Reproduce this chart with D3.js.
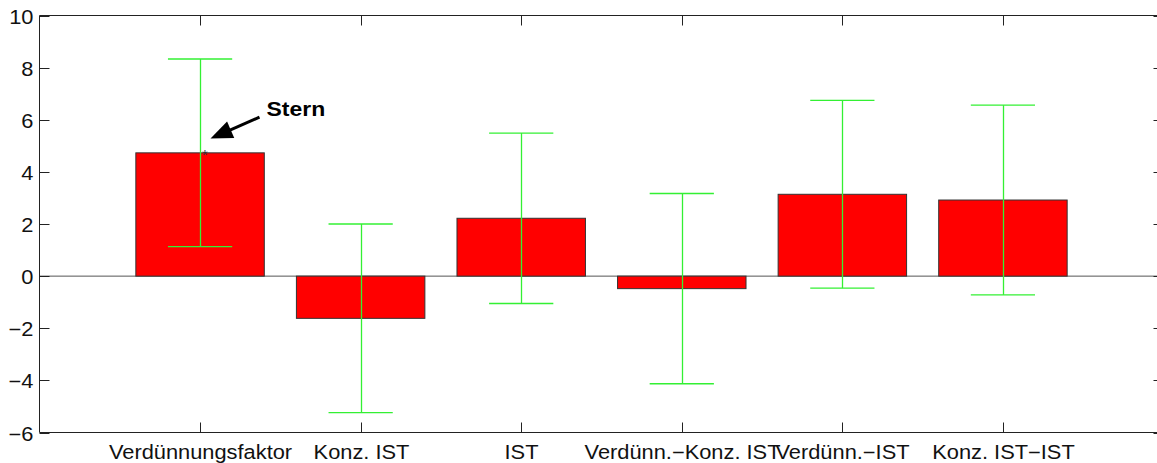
<!DOCTYPE html>
<html>
<head>
<meta charset="utf-8">
<script src="https://cdnjs.cloudflare.com/ajax/libs/d3/7.8.5/d3.min.js"></script>
<style>
  html, body { margin: 0; padding: 0; background: #fff; }
  text { font-family: "Liberation Sans", Arial, sans-serif; }
</style>
</head>
<body>
<div id="chart"></div>
<script>
// Data
var categories = ["Verdünnungsfaktor", "Konz. IST", "IST", "Verdünn.\u2212Konz. IST", "Verdünn.\u2212IST", "Konz. IST\u2212IST"];
var means = [4.73, -1.62, 2.22, -0.48, 3.14, 2.92];
var errors = [3.6, 3.62, 3.27, 3.65, 3.6, 3.64];
var yTicks = [-6, -4, -2, 0, 2, 4, 6, 8, 10];
var note = {text: "Stern", tx: 1.414, ty: 6.16, fromX: 1.37, fromY: 6.1, toX: 1.065, toY: 5.28, starX: 1.03, starY: 4.9};

var W = 1157, H = 463;
var sx = 1.12; // picture is a bit stretched horizontally

var svg = d3.select("#chart").append("svg")
  .attr("width", W).attr("height", H);

var x = d3.scaleLinear().domain([0, 7]).range([39.5, 1163.5]);
var y = d3.scaleLinear().domain([-6, 10]).range([432.5, 15.5]);

var barW = x(0.8) - x(0);

// baseline
svg.append("line")
  .attr("x1", x(0)).attr("x2", x(7))
  .attr("y1", y(0)).attr("y2", y(0))
  .style("stroke", "#555").style("stroke-width", 1);

// bars
svg.selectAll(".bar")
  .data(means)
  .enter()
  .append("rect")
  .attr("class", "bar")
  .attr("x", function(d, i) { return x(i + 1) - barW / 2; })
  .attr("width", barW)
  .attr("y", function(d) { return y(Math.max(0, d)); })
  .attr("height", function(d) { return Math.abs(y(d) - y(0)); })
  .style("fill", "#ff0000")
  .style("stroke", "#333")
  .style("stroke-width", 1);

// error bars
var capW = x(0.2) - x(0);
var eb = svg.selectAll(".err")
  .data(means)
  .enter()
  .append("g")
  .attr("class", "err")
  .style("stroke", "#33f033")
  .style("stroke-width", 1.3);
eb.append("line")
  .attr("x1", function(d, i) { return Math.round(x(i + 1)) + 0.5; })
  .attr("x2", function(d, i) { return Math.round(x(i + 1)) + 0.5; })
  .attr("y1", function(d, i) { return y(d + errors[i]); })
  .attr("y2", function(d, i) { return y(d - errors[i]); });
eb.append("line")
  .attr("x1", function(d, i) { return x(i + 1) - capW; })
  .attr("x2", function(d, i) { return x(i + 1) + capW; })
  .attr("y1", function(d, i) { return y(d + errors[i]); })
  .attr("y2", function(d, i) { return y(d + errors[i]); });
eb.append("line")
  .attr("x1", function(d, i) { return x(i + 1) - capW; })
  .attr("x2", function(d, i) { return x(i + 1) + capW; })
  .attr("y1", function(d, i) { return y(d - errors[i]); })
  .attr("y2", function(d, i) { return y(d - errors[i]); });

// axes box
var axisCol = "#222";
svg.append("path")
  .attr("d", "M" + x(7) + "," + y(10) + "H" + x(0) + "V" + y(-6) + "H" + x(7))
  .style("fill", "none").style("stroke", axisCol).style("stroke-width", 1);
svg.append("line")
  .attr("x1", x(7)).attr("x2", x(7)).attr("y1", y(10)).attr("y2", y(-6))
  .style("stroke", axisCol);

// y ticks (inward, both sides)
var tickLen = 10;
yTicks.forEach(function(t) {
  var yy = Math.round(y(t)) + 0.5;
  svg.append("line").attr("x1", x(0)).attr("x2", x(0) + tickLen)
    .attr("y1", yy).attr("y2", yy).style("stroke", axisCol);
  svg.append("line").attr("x1", x(7)).attr("x2", x(7) - tickLen)
    .attr("y1", yy).attr("y2", yy).style("stroke", axisCol);
  svg.append("text")
    .attr("transform", "translate(" + (x(0) - 6) + "," + yy + ") scale(" + sx + ",1)")
    .attr("text-anchor", "end")
    .attr("dy", "0.36em")
    .style("font-size", "19.5px")
    .style("fill", "#111")
    .text(t < 0 ? "\u2212" + Math.abs(t) : t);
});

// x ticks (inward, top and bottom) + labels
categories.forEach(function(c, i) {
  var xx = Math.round(x(i + 1)) + 0.5;
  svg.append("line").attr("x1", xx).attr("x2", xx)
    .attr("y1", y(10)).attr("y2", y(10) + tickLen).style("stroke", axisCol);
  svg.append("line").attr("x1", xx).attr("x2", xx)
    .attr("y1", y(-6)).attr("y2", y(-6) - tickLen).style("stroke", axisCol);
  svg.append("text")
    .attr("transform", "translate(" + xx + "," + (y(-6) + 26) + ") scale(" + sx + ",1)")
    .attr("text-anchor", "middle")
    .style("font-size", "19.5px")
    .style("fill", "#111")
    .text(c);
});

// annotation: star marker + arrow + label
svg.append("text")
  .attr("x", x(note.starX)).attr("y", y(note.starY))
  .attr("text-anchor", "middle")
  .attr("dy", "0.75em")
  .style("font-size", "15px")
  .style("fill", "#333")
  .text("*");

var x1 = x(note.fromX), y1 = y(note.fromY), x2 = x(note.toX), y2 = y(note.toY);
var ang = Math.atan2(y2 - y1, x2 - x1);
var headL = 22, headW = 9;
var bx = x2 - headL * Math.cos(ang), by = y2 - headL * Math.sin(ang);
svg.append("line")
  .attr("x1", x1).attr("y1", y1).attr("x2", bx + 2 * Math.cos(ang)).attr("y2", by + 2 * Math.sin(ang))
  .style("stroke", "#000").style("stroke-width", 3);
svg.append("polygon")
  .attr("points", [
    [x2, y2],
    [bx + headW * Math.sin(ang), by - headW * Math.cos(ang)],
    [bx - headW * Math.sin(ang), by + headW * Math.cos(ang)]
  ].map(function(p) { return p.join(","); }).join(" "))
  .style("fill", "#000");

svg.append("text")
  .attr("transform", "translate(" + x(note.tx) + "," + y(note.ty) + ") scale(" + sx + ",1)")
  .style("font-size", "20.5px")
  .style("font-weight", "bold")
  .style("fill", "#000")
  .text(note.text);
</script>
</body>
</html>
